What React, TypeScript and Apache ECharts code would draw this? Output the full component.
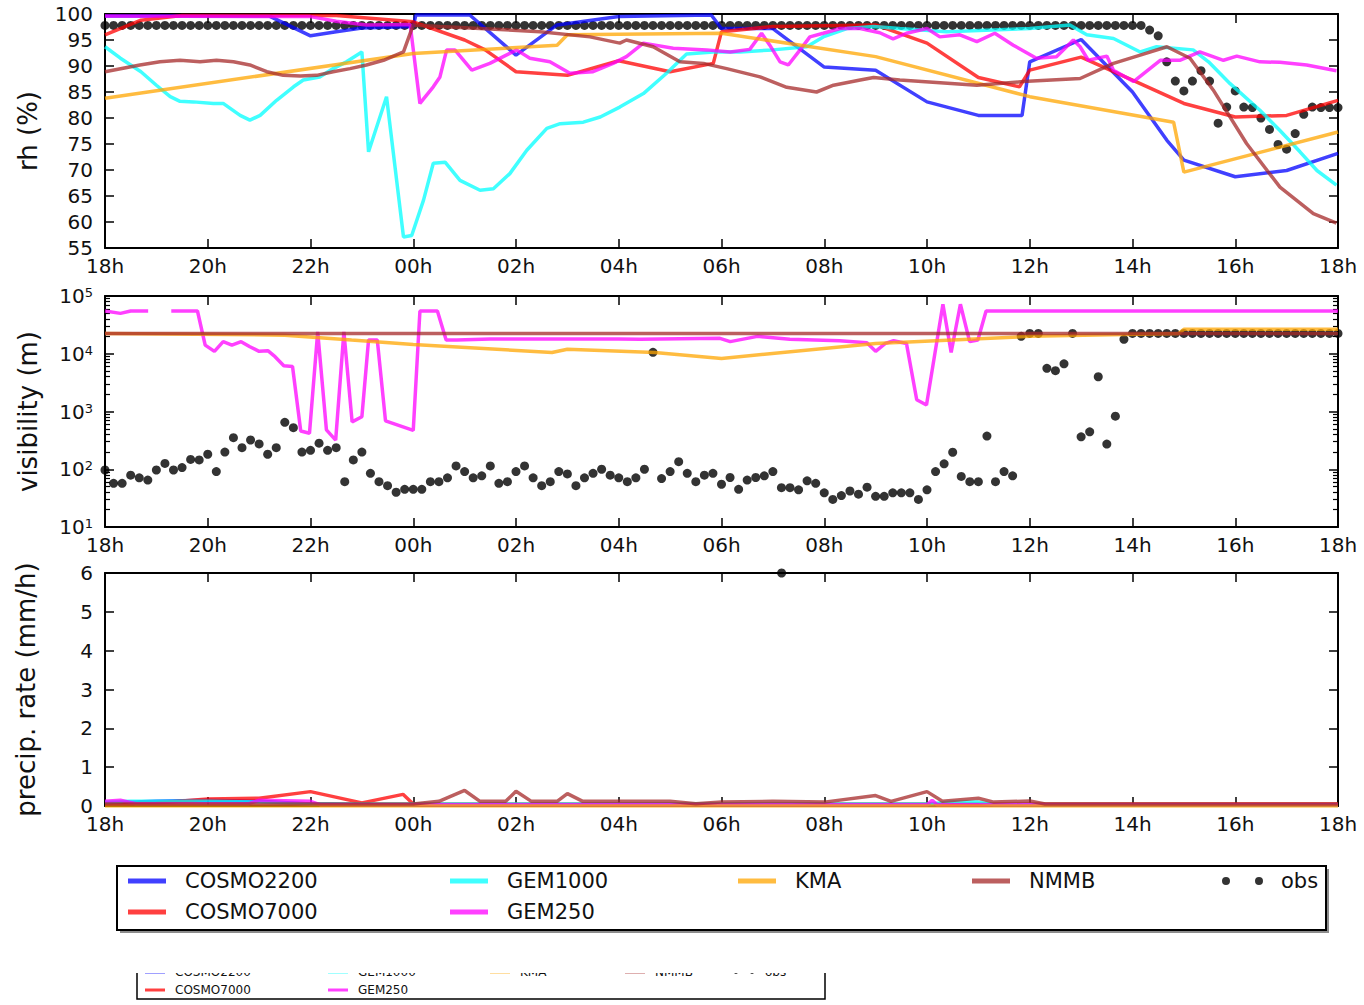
import React, { useEffect, useRef } from 'react';
import * as echarts from 'echarts';

// ---------- tick labels / categories ----------
const TIME_LABELS = ['18h', '20h', '22h', '00h', '02h', '04h', '06h', '08h', '10h', '12h', '14h', '16h', '18h'];
const MODELS = ['COSMO2200', 'COSMO7000', 'GEM1000', 'GEM250', 'KMA', 'NMMB'];
const DECADES = [10, 100, 1000, 10000];
const MINOR_MULT = [2, 3, 4, 5, 6, 7, 8, 9];
const OBS_STEP_H = 10 / 60; // observations every 10 minutes from 18h

// ---------- relative humidity (%) : [hours since 18h, value] ----------
const RH_COSMO2200 = [[0, 99.6], [3.2, 99.6], [4, 95.8], [4.5, 96.6], [5, 97.3], [6, 97.6], [6.05, 99.8], [7.1, 99.8], [8, 92.1], [8.8, 97.9], [10, 99.5], [11.8, 99.8], [12, 97.2], [13, 97.2], [14, 89.8], [15, 89.2], [16, 83.1], [17, 80.5], [17.85, 80.5], [18, 90.8], [19, 95.1], [20, 85], [20.67, 75.7], [21, 71.9], [22, 68.7], [23, 69.9], [24, 73.2]];
const RH_COSMO7000 = [[0, 96], [0.7, 98.8], [1.5, 99.7], [4.5, 99.7], [6, 98.5], [7, 95], [7.4, 93.1], [8, 88.9], [9, 88.2], [10, 91], [11, 88.9], [11.84, 90.5], [12, 96.6], [13, 97.6], [15, 97.9], [16, 94.4], [17, 87.8], [17.8, 86], [18, 89.2], [19, 91.7], [20, 87.3], [21, 82.8], [22, 80.2], [23, 80.5], [24, 83.4]];
const RH_GEM1000 = [[0, 93.7], [0.3, 91.5], [0.7, 88.9], [1, 86.3], [1.27, 84.1], [1.46, 83.2], [1.72, 83.1], [2.11, 82.8], [2.3, 82.8], [2.63, 80.5], [2.82, 79.6], [3.02, 80.5], [3.34, 83.4], [3.67, 86], [3.86, 87.3], [4.18, 87.9], [4.44, 89.5], [4.7, 90.8], [5.0, 92.7], [5.13, 73.5], [5.48, 84.1], [5.81, 57.1], [5.97, 57.4], [6.2, 64.2], [6.39, 71.3], [6.62, 71.5], [6.91, 68.0], [7.3, 66.1], [7.56, 66.4], [7.88, 69.3], [8.21, 73.8], [8.6, 78], [8.86, 78.9], [9.31, 79.2], [9.64, 80.2], [10.02, 82.1], [10.48, 84.7], [10.93, 88.6], [11.32, 92.3], [11.84, 92.7], [12.36, 92.7], [13, 93.1], [13.66, 93.7], [13.98, 95.6], [14.44, 97.2], [14.96, 97.6], [15.47, 97.2], [16.38, 96.6], [18, 97.2], [18.78, 97.9], [19.11, 96], [19.63, 95.3], [20.15, 92.7], [20.47, 93.7], [21.18, 93.1], [21.48, 90.8], [21.9, 86.6], [22.48, 81.5], [22.87, 77.6], [23.26, 73.5], [23.59, 69.9], [23.97, 67.1]];
const RH_GEM250 = [[0, 99.6], [4, 99.5], [4.5, 98.6], [5.09, 97.9], [5.94, 98], [6.13, 82.8], [6.39, 86], [6.52, 87.9], [6.65, 93.1], [6.81, 93.1], [7.14, 89.2], [7.49, 90.5], [8.01, 93.1], [8.27, 91.5], [8.66, 90.8], [9.05, 88.6], [9.5, 88.9], [9.89, 90.5], [10.15, 91.8], [10.48, 94.4], [11.06, 93.4], [11.71, 93.1], [12.17, 92.7], [12.55, 93.2], [12.78, 96.3], [12.94, 94.0], [13.14, 90.8], [13.3, 90.2], [13.53, 93.1], [13.72, 95.6], [13.98, 96.3], [14.31, 97.2], [14.7, 97.2], [15.08, 96.4], [15.34, 95.2], [15.6, 96.3], [16.0, 97.2], [16.25, 95.6], [16.64, 96], [16.97, 94.7], [17.32, 96.3], [17.68, 94.0], [18.13, 91.5], [18.52, 91.8], [18.85, 95], [18.98, 93.7], [19.14, 91.1], [19.5, 91.9], [19.63, 89.2], [20.02, 87], [20.54, 91.1], [20.92, 91.1], [21.31, 92.7], [21.77, 91.1], [22.03, 91.9], [22.48, 90.8], [22.87, 90.7], [23.39, 90.2], [23.97, 89.1]];
const RH_KMA = [[0, 83.8], [6, 92.4], [8.8, 94], [9, 96], [12, 96.3], [15, 91.8], [18, 84.1], [20.8, 79.2], [21, 69.6], [24, 77.3]];
const RH_NMMB = [[0, 88.9], [0.68, 90.2], [1.07, 90.8], [1.46, 91.1], [1.85, 90.8], [2.17, 91.1], [2.5, 90.8], [2.82, 90.2], [3.15, 88.9], [3.47, 88.2], [3.8, 88.1], [4.12, 88.2], [4.44, 88.9], [4.77, 89.5], [5.09, 90.2], [5.42, 91.1], [5.81, 92.7], [6.0, 97.9], [6.52, 97.6], [8.47, 96.6], [9.44, 95.6], [10.02, 94.4], [10.15, 95], [10.67, 93.7], [11.19, 90.8], [11.65, 90.5], [12.1, 89.5], [12.75, 87.9], [13.27, 85.9], [13.85, 85.0], [14.18, 86.3], [14.7, 87.3], [14.96, 87.8], [15.47, 87.3], [16.97, 86.3], [17.87, 87], [18.98, 87.6], [19.63, 90.5], [20.15, 92.1], [20.67, 93.7], [21.12, 91.5], [21.57, 85.4], [22.22, 75.1], [22.87, 66.7], [23.52, 61.6], [23.97, 59.8]];
const RH_OBS = [
  97.8, 97.8, 97.8, 97.8, 97.8, 97.8, 97.8, 97.8, 97.8, 97.8,
  97.8, 97.8, 97.8, 97.8, 97.8, 97.8, 97.8, 97.8, 97.8, 97.8,
  97.8, 97.8, 97.8, 97.8, 97.8, 97.8, 97.8, 97.8, 97.8, 97.8,
  97.8, 97.8, 97.8, 97.8, 97.8, 97.8, 97.8, 97.8, 97.8, 97.8,
  97.8, 97.8, 97.8, 97.8, 97.8, 97.8, 97.8, 97.8, 97.8, 97.8,
  97.8, 97.8, 97.8, 97.8, 97.8, 97.8, 97.8, 97.8, 97.8, 97.8,
  97.8, 97.8, 97.8, 97.8, 97.8, 97.8, 97.8, 97.8, 97.8, 97.8,
  97.8, 97.8, 97.8, 97.8, 97.8, 97.8, 97.8, 97.8, 97.8, 97.8,
  97.8, 97.8, 97.8, 97.8, 97.8, 97.8, 97.8, 97.8, 97.8, 97.8,
  97.8, 97.8, 97.8, 97.8, 97.8, 97.8, 97.8, 97.8, 97.8, 97.8,
  97.8, 97.8, 97.8, 97.8, 97.8, 97.8, 97.8, 97.8, 97.8, 97.8,
  97.8, 97.8, 97.8, 97.8, 97.8, 97.8, 97.8, 97.8, 97.8, 97.8,
  97.8, 97.8,
  96.9, 95.8, 90.8, 87.1, 85.2, 87.1, 89.1, 87.1, 79.0, 82.1,
  85.2, 82.1, 82.0, 80.0, 77.8, 74.9, 74.0, 77.0, 80.7, 82.1,
  82.0, 82.0, 82.0
];

// ---------- visibility (m) ----------
const VIS_GEM250 = [[0, 55000], [0.3, 50000], [0.5, 55000], [0.84, 55000], [1.05, null], [1.29, 55000], [1.8, 55000], [1.95, 14100], [2.13, 11000], [2.3, 16200], [2.47, 14100], [2.65, 16200], [2.82, 13200], [3.0, 11000], [3.17, 11300], [3.31, 8900], [3.48, 6200], [3.65, 6000], [3.81, 460], [3.98, 420], [4.14, 24000], [4.31, 480], [4.49, 320], [4.65, 24000], [4.81, 660], [5.0, 810], [5.13, 17300], [5.3, 17300], [5.46, 690], [6.0, 470], [6.13, 55000], [6.47, 55000], [6.64, 17300], [6.85, 17300], [7.5, 18000], [10, 18000], [10.41, 17800], [11.97, 18500], [12.17, 16200], [12.7, 20000], [13.33, 17800], [14.3, 16800], [14.83, 15500], [15.0, 11000], [15.19, 15100], [15.35, 16800], [15.6, 15100], [15.8, 1600], [15.99, 1300], [16.31, 72000], [16.47, 10500], [16.65, 72000], [16.83, 16200], [16.99, 17300], [17.15, 55000], [24, 55000]];
const VIS_KMA = [[0, 22500], [3.5, 21000], [4.8, 17300], [6, 14500], [8.7, 10500], [9, 12000], [10.7, 10500], [12, 8300], [15, 15100], [18, 20000], [20.9, 22500], [21, 26500], [24, 26500]];
const VIS_NMMB = [[0, 22500], [6, 22500], [12, 22500], [18, 22500], [24, 22500]];
const VIS_OBS = [
  97, 57, 57, 79, 71, 65, 97, 126, 97, 107,
  148, 145, 182, 91, 198, 352, 236, 321, 275, 182,
  236, 650, 525, 198, 213, 283, 213, 236, 61, 145,
  198, 85, 61, 52, 40, 45, 45, 45, 61, 61,
  71, 114, 91, 71, 77, 114, 57, 61, 91, 114,
  71, 52, 61, 91, 83, 52, 71, 85, 100, 79,
  71, 61, 71, 100, 10600, 69, 91, 135, 85, 61,
  79, 85, 55, 72, 45, 65, 72, 77, 91, 48,
  48, 44, 63, 57, 39, 30, 35, 42, 37, 49,
  34, 34, 39, 39, 39, 30, 44, 91, 124, 197,
  75, 61, 61, 376, 61, 91, 77, 20000, 22500, 22500,
  5600, 5100, 6700, 22500, 365, 445, 4000, 273, 830, 17800,
  22500, 22500, 22500, 22500, 22500, 22500, 22500, 22500, 22500, 22500,
  22500, 22500, 22500, 22500, 22500, 22500, 22500, 22500, 22500, 22500,
  22500, 22500, 22500, 22500, 22500
];

// ---------- precipitation rate (mm/h) ----------
const PR_COSMO2200 = [[0, 0.08], [1, 0.12], [2, 0.15], [3, 0.12], [4, 0.05], [6, 0.02], [12, 0.02], [18, 0.02], [24, 0.02]];
const PR_COSMO7000 = [[0, 0.05], [1, 0.08], [2, 0.18], [3, 0.2], [4, 0.37], [5, 0.08], [5.8, 0.3], [6, 0.05], [12, 0.05], [18, 0.05], [24, 0.05]];
const PR_GEM1000 = [[0, 0.1], [0.5, 0.12], [1, 0.12], [2, 0.12], [3, 0.1], [4, 0.05], [16, 0.05], [16.5, 0.1], [17, 0.1], [17.3, 0.04], [24, 0.03]];
const PR_GEM250 = [[0, 0.12], [0.3, 0.15], [0.6, 0.06], [2.8, 0.06], [3, 0.15], [4, 0.12], [4.2, 0.03], [16, 0.03], [16.1, 0.15], [16.2, 0.03], [24, 0.03]];
const PR_KMA = [[0, 0], [3, 0], [6, 0], [9, 0], [12, 0], [15, 0], [18, 0], [21, 0], [24, 0]];
const PR_NMMB = [[0, 0.05], [6, 0.05], [6.5, 0.12], [7, 0.4], [7.3, 0.12], [7.8, 0.12], [8, 0.38], [8.3, 0.12], [8.8, 0.12], [9, 0.32], [9.3, 0.12], [11, 0.12], [11.5, 0.06], [12, 0.1], [13, 0.12], [14, 0.1], [15, 0.27], [15.3, 0.12], [16, 0.37], [16.3, 0.12], [17, 0.2], [17.3, 0.1], [18, 0.13], [18.3, 0.05], [24, 0.05]];
const PR_OBS = [[13.17, 6.0]];

const COLORS: Record<string, string> = {
  COSMO2200: 'rgba(0,0,255,0.75)',
  COSMO7000: 'rgba(255,0,0,0.75)',
  GEM1000: 'rgba(0,255,255,0.75)',
  GEM250: 'rgba(255,0,255,0.75)',
  KMA: 'rgba(255,165,0,0.75)',
  NMMB: 'rgba(165,42,42,0.75)',
};

const FONT = 'DejaVu Sans';
const INK = '#111';
const OBS_ICON = 'path://M4,0A4,4 0 1,1 4,8A4,4 0 1,1 4,0ZM37,0A4,4 0 1,1 37,8A4,4 0 1,1 37,0Z';

const GRIDS = [
  { left: 105, top: 14, width: 1233, height: 234 },
  { left: 105, top: 296, width: 1233, height: 231 },
  { left: 105, top: 573, width: 1233, height: 233 },
  { left: 105, top: 296, width: 1233, height: 231 }, // overlay grid for log minor ticks
];

function buildOption() {
  const axisLine = { show: true, onZero: false, lineStyle: { color: '#000', width: 2 } };
  const tick = { show: true, inside: true, length: 9, lineStyle: { color: '#000', width: 1.5 } };
  const labelStyle = { fontSize: 20, fontFamily: FONT, color: INK };

  const xAxis: any[] = [];
  [0, 1, 2].forEach((g) => {
    const base = { type: 'value', gridIndex: g, min: 0, max: 24, interval: 2, axisLine, axisTick: tick, splitLine: { show: false } };
    xAxis.push({ ...base, position: 'bottom', axisLabel: { ...labelStyle, margin: 8, formatter: (v: number) => TIME_LABELS[Math.round(v / 2)] } });
    xAxis.push({ ...base, position: 'top', axisLabel: { show: false } });
  });
  xAxis.push({ type: 'value', gridIndex: 3, min: 0, max: 24, show: false });

  const nameStyle = { fontSize: 26, fontFamily: FONT, color: INK };
  const minorLogs: number[] = [];
  DECADES.forEach((d) => MINOR_MULT.forEach((m) => minorLogs.push(Math.log10(d * m))));
  const minorAxis = (position: string) => ({
    type: 'value', gridIndex: 3, position, min: 1, max: 5,
    axisLine: { show: true, onZero: false, lineStyle: { color: 'rgba(0,0,0,0)', width: 0 } },
    axisTick: { show: true, inside: true, length: 5, lineStyle: { color: '#000', width: 1.2 }, customValues: minorLogs },
    axisLabel: { show: false }, splitLine: { show: false },
  });

  const yAxis: any[] = [
    // rh
    { type: 'value', gridIndex: 0, position: 'left', min: 55, max: 100, interval: 5, axisLine, axisTick: tick, splitLine: { show: false }, axisLabel: { ...labelStyle, margin: 12 }, name: 'rh (%)', nameLocation: 'middle', nameGap: 64, nameTextStyle: nameStyle },
    { type: 'value', gridIndex: 0, position: 'right', min: 55, max: 100, interval: 5, axisLine, axisTick: tick, splitLine: { show: false }, axisLabel: { show: false } },
    // visibility (log)
    {
      type: 'log', logBase: 10, gridIndex: 1, position: 'left', min: 10, max: 100000, axisLine, axisTick: tick, splitLine: { show: false },
      axisLabel: {
        margin: 12,
        formatter: (v: number) => `{b|10}{s|${Math.round(Math.log10(v))}}`,
        rich: { b: { fontSize: 20, fontFamily: FONT, color: INK }, s: { fontSize: 13, fontFamily: FONT, color: INK, verticalAlign: 'top' } },
      },
      name: 'visibility (m)', nameLocation: 'middle', nameGap: 64, nameTextStyle: nameStyle,
    },
    { type: 'log', logBase: 10, gridIndex: 1, position: 'right', min: 10, max: 100000, axisLine, axisTick: tick, splitLine: { show: false }, axisLabel: { show: false } },
    // precip
    { type: 'value', gridIndex: 2, position: 'left', min: 0, max: 6, interval: 1, axisLine, axisTick: tick, splitLine: { show: false }, axisLabel: { ...labelStyle, margin: 12 }, name: 'precip. rate (mm/h)', nameLocation: 'middle', nameGap: 66, nameTextStyle: nameStyle },
    { type: 'value', gridIndex: 2, position: 'right', min: 0, max: 6, interval: 1, axisLine, axisTick: tick, splitLine: { show: false }, axisLabel: { show: false } },
    // minor log ticks (overlay grid)
    minorAxis('left'),
    minorAxis('right'),
  ];

  const line = (name: string, data: any[], xi: number, yi: number) => ({
    type: 'line', name, data, xAxisIndex: xi, yAxisIndex: yi,
    showSymbol: false, symbol: 'none', connectNulls: false, silent: true,
    lineStyle: { width: 3.5, color: COLORS[name] }, itemStyle: { color: COLORS[name] },
    emphasis: { disabled: true },
  });
  const obs = (data: any[], xi: number, yi: number) => ({
    type: 'scatter', name: 'obs', data, xAxisIndex: xi, yAxisIndex: yi,
    symbol: 'circle', symbolSize: 9, itemStyle: { color: '#000' }, silent: true, emphasis: { disabled: true },
  });
  const obsPairs = (arr: number[]) => arr.map((v, i) => [i * OBS_STEP_H, v]);

  const series: any[] = [
    line('COSMO2200', RH_COSMO2200, 0, 0), line('COSMO7000', RH_COSMO7000, 0, 0), line('GEM1000', RH_GEM1000, 0, 0),
    line('GEM250', RH_GEM250, 0, 0), line('KMA', RH_KMA, 0, 0), line('NMMB', RH_NMMB, 0, 0), obs(obsPairs(RH_OBS), 0, 0),

    line('GEM250', VIS_GEM250, 2, 2), line('KMA', VIS_KMA, 2, 2), line('NMMB', VIS_NMMB, 2, 2), obs(obsPairs(VIS_OBS), 2, 2),

    line('COSMO2200', PR_COSMO2200, 4, 4), line('COSMO7000', PR_COSMO7000, 4, 4), line('GEM1000', PR_GEM1000, 4, 4),
    line('GEM250', PR_GEM250, 4, 4), line('KMA', PR_KMA, 4, 4), line('NMMB', PR_NMMB, 4, 4), obs(PR_OBS, 4, 4),
  ];

  // legend layout (main box + clipped duplicate underneath)
  const mainPos: Record<string, [number, number]> = {
    COSMO2200: [128, 870], COSMO7000: [128, 901], GEM1000: [450, 870], GEM250: [450, 901],
    KMA: [738, 870], NMMB: [972, 870], obs: [1222, 870],
  };
  const miniPos: Record<string, [number, number]> = {
    COSMO2200: [145, 965], COSMO7000: [145, 983], GEM1000: [328, 965], GEM250: [328, 983],
    KMA: [490, 965], NMMB: [625, 965], obs: [734, 965],
  };
  const legends: any[] = [];
  [...MODELS, 'obs'].forEach((name) => {
    const isObs = name === 'obs';
    const [x, y] = mainPos[name];
    legends.push({
      data: [{ name, icon: isObs ? OBS_ICON : 'rect' }], left: x, top: y, padding: 0, selectedMode: false,
      itemWidth: isObs ? 41 : 38, itemHeight: isObs ? 8 : 5,
      textStyle: { fontSize: 21, fontFamily: FONT, color: INK, lineHeight: 22, padding: [0, 0, 0, isObs ? 13 : 14] },
    });
    const [mx, my] = miniPos[name];
    legends.push({
      data: [{ name, icon: isObs ? OBS_ICON : 'rect' }], left: mx, top: my, padding: 0, selectedMode: false,
      itemWidth: 20, itemHeight: isObs ? 4 : 3,
      textStyle: { fontSize: 12, fontFamily: FONT, color: INK, lineHeight: 14, padding: [0, 0, 0, isObs ? 6 : 5] },
    });
  });

  const graphic = [
    { type: 'rect', z: 1, silent: true, shape: { x: 120, y: 869, width: 1209, height: 64 }, style: { fill: 'rgba(0,0,0,0.45)' } },
    { type: 'rect', z: 2, silent: true, shape: { x: 117, y: 866, width: 1209, height: 64 }, style: { fill: '#fff', stroke: '#000', lineWidth: 2 } },
    { type: 'polyline', z: 2, silent: true, shape: { points: [[137, 973], [137, 999], [825, 999], [825, 973]] }, style: { fill: null, stroke: '#000', lineWidth: 1.5 } },
    { type: 'rect', z: 100, silent: true, shape: { x: 125, y: 938, width: 720, height: 35 }, style: { fill: '#fff' } },
  ];

  return {
    animation: false,
    backgroundColor: '#fff',
    grid: GRIDS.map((g) => ({ ...g, containLabel: false })),
    xAxis, yAxis, series, legend: legends, graphic,
  };
}

export default function App() {
  const ref = useRef<HTMLDivElement>(null);
  useEffect(() => {
    if (!ref.current) return;
    const chart = echarts.init(ref.current, undefined, { renderer: 'svg' });
    chart.setOption(buildOption() as any);
    return () => chart.dispose();
  }, []);
  return <div ref={ref} style={{ position: 'absolute', left: 0, top: 0, width: 1364, height: 1005, background: '#fff' }} />;
}
